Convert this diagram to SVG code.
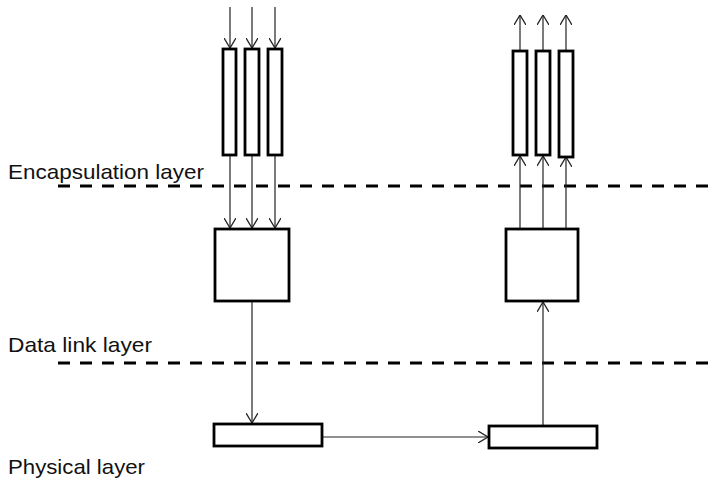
<svg xmlns="http://www.w3.org/2000/svg" width="714" height="483" viewBox="0 0 714 483">
<style>
.box{fill:#fff;stroke:#000;stroke-width:2.8}
.lbl{font-family:"Liberation Sans",Arial,sans-serif;font-size:21px;fill:#111}
.con{stroke:#222;stroke-width:1.2;fill:none}
.dash{stroke:#000;stroke-width:3;stroke-dasharray:12 10;fill:none}
</style>
<defs>
<marker id="arr" markerUnits="userSpaceOnUse" viewBox="0 0 10 12" refX="10" refY="6" markerWidth="10" markerHeight="12" orient="auto">
<path d="M0,0 L10,6 L0,12" fill="none" stroke="#222" stroke-width="1.3"/>
</marker>
</defs>
<rect width="714" height="483" fill="#fff"/>
<g id="layers">
<line class="dash" x1="58" y1="186" x2="714" y2="186"/>
<line class="dash" x1="58" y1="363" x2="714" y2="363"/>
<text class="lbl" x="8" y="179" textLength="196" lengthAdjust="spacingAndGlyphs">Encapsulation layer</text>
<text class="lbl" x="8" y="352" textLength="144" lengthAdjust="spacingAndGlyphs">Data link layer</text>
<text class="lbl" x="8" y="474" textLength="137" lengthAdjust="spacingAndGlyphs">Physical layer</text>
</g>
<g id="connectors">
<line class="con" x1="230" y1="7" x2="230" y2="48" marker-end="url(#arr)"/>
<line class="con" x1="252" y1="7" x2="252" y2="48" marker-end="url(#arr)"/>
<line class="con" x1="275" y1="7" x2="275" y2="48" marker-end="url(#arr)"/>
<line class="con" x1="230" y1="156" x2="230" y2="228" marker-end="url(#arr)"/>
<line class="con" x1="252" y1="156" x2="252" y2="228" marker-end="url(#arr)"/>
<line class="con" x1="275" y1="156" x2="275" y2="228" marker-end="url(#arr)"/>
<line class="con" x1="252" y1="302" x2="252" y2="423" marker-end="url(#arr)"/>
<line class="con" x1="323" y1="437" x2="488" y2="437" marker-end="url(#arr)"/>
<line class="con" x1="543" y1="425" x2="543" y2="302" marker-end="url(#arr)"/>
<line class="con" x1="520" y1="228" x2="520" y2="156" marker-end="url(#arr)"/>
<line class="con" x1="543" y1="228" x2="543" y2="156" marker-end="url(#arr)"/>
<line class="con" x1="566" y1="228" x2="566" y2="157" marker-end="url(#arr)"/>
<line class="con" x1="520" y1="50" x2="520" y2="15" marker-end="url(#arr)"/>
<line class="con" x1="543" y1="50" x2="543" y2="15" marker-end="url(#arr)"/>
<line class="con" x1="566" y1="50" x2="566" y2="15" marker-end="url(#arr)"/>
</g>
<g id="in1"><rect class="box" x="223" y="49" width="13" height="106"/></g>
<g id="in2"><rect class="box" x="245" y="49" width="14" height="106"/></g>
<g id="in3"><rect class="box" x="268" y="49" width="14" height="106"/></g>
<g id="encap-left"><rect class="box" x="215" y="229" width="74" height="72"/></g>
<g id="phy-left"><rect class="box" x="214" y="424" width="108" height="22"/></g>
<g id="phy-right"><rect class="box" x="489" y="426" width="108" height="22"/></g>
<g id="encap-right"><rect class="box" x="506" y="229" width="72" height="72"/></g>
<g id="out1"><rect class="box" x="513" y="51" width="14" height="104"/></g>
<g id="out2"><rect class="box" x="536" y="51" width="14" height="104"/></g>
<g id="out3"><rect class="box" x="559" y="51" width="14" height="106"/></g>
</svg>
